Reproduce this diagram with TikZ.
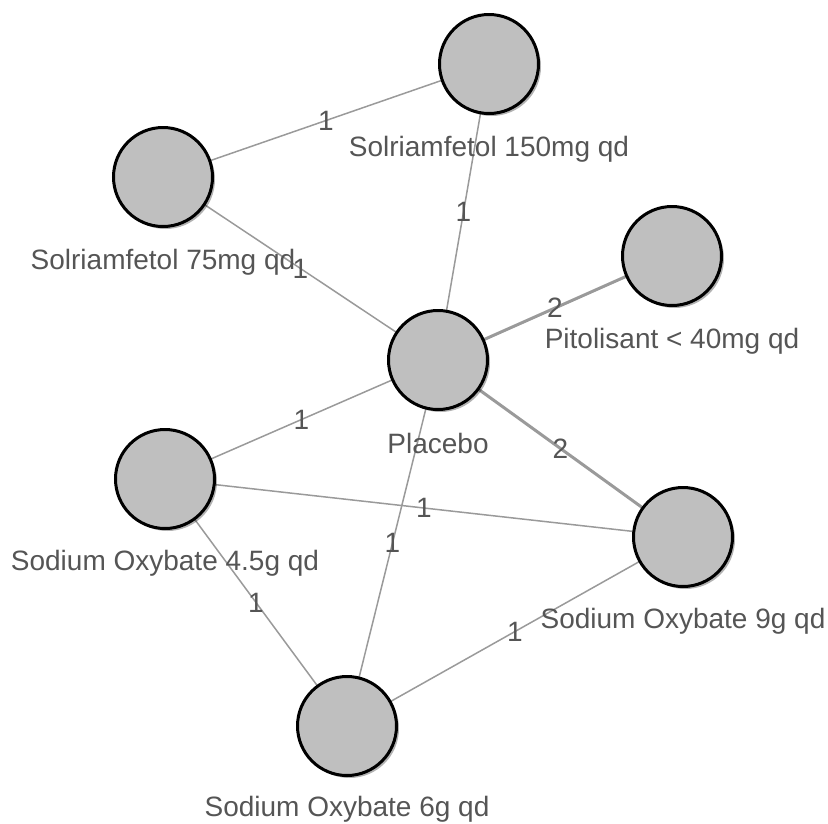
\documentclass[tikz,border=0pt]{standalone}
\usepackage{fontspec}
\setmainfont{Liberation Sans}
\usetikzlibrary{shadows}
\definecolor{nodefill}{HTML}{BFBFBF}
\definecolor{edgecol}{HTML}{9A9A9A}
\definecolor{txtcol}{HTML}{555555}
\tikzset{
  trt/.style={circle, draw=black, line width=3pt, fill=nodefill, minimum size=99pt, inner sep=0pt,
    drop shadow={shadow xshift=2.5pt, shadow yshift=-2.5pt, opacity=0.3, fill=black}},
  lbl/.style={text=txtcol, font=\fontsize{28}{30}\selectfont, inner sep=0pt, anchor=center},
  one/.style={draw=edgecol, line width=1.5pt},
  two/.style={draw=edgecol, line width=3pt},
  elbl/.style={text=txtcol, font=\fontsize{28}{30}\selectfont, inner sep=0pt, midway}
}
\begin{document}
\begin{tikzpicture}[x=1pt, y=-1pt]
\useasboundingbox (0,0) rectangle (828,823);
% coordinates for node centres
\coordinate (cS150) at (489,64);
\coordinate (cS75) at (163,177);
\coordinate (cPit) at (672,256);
\coordinate (cPla) at (438,360);
\coordinate (cSO45) at (165,479);
\coordinate (cSO9) at (683,537);
\coordinate (cSO6) at (347,726);
% edges
\draw[one] (cS75) -- node[elbl]{1} (cS150);
\draw[one] (cS75) -- node[elbl]{1} (cPla);
\draw[one] (cS150) -- node[elbl]{1} (cPla);
\draw[two] (cPla) -- node[elbl]{2} (cPit);
\draw[two] (cPla) -- node[elbl]{2} (cSO9);
\draw[one] (cSO45) -- node[elbl]{1} (cPla);
\draw[one] (cSO45) -- node[elbl]{1} (cSO9);
\draw[one] (cPla) -- node[elbl]{1} (cSO6);
\draw[one] (cSO45) -- node[elbl]{1} (cSO6);
\draw[one] (cSO6) -- node[elbl]{1} (cSO9);
% nodes
\node[trt] (S150) at (cS150) {};
\node[trt] (S75) at (cS75) {};
\node[trt] (Pit) at (cPit) {};
\node[trt] (Pla) at (cPla) {};
\node[trt] (SO45) at (cSO45) {};
\node[trt] (SO9) at (cSO9) {};
\node[trt] (SO6) at (cSO6) {};
% labels
\node[lbl] (tS150) at (489,149) {Solriamfetol 150mg qd};
\node[lbl] (tS75) at (163,262) {Solriamfetol 75mg qd};
\node[lbl] (tPit) at (672,341) {Pitolisant < 40mg qd};
\node[lbl] (tPla) at (438,443) {Placebo};
\node[lbl] (tSO45) at (165,563) {Sodium Oxybate 4.5g qd};
\node[lbl] (tSO9) at (683,621) {Sodium Oxybate 9g qd};
\node[lbl] (tSO6) at (347,809) {Sodium Oxybate 6g qd};
\end{tikzpicture}
\end{document}
